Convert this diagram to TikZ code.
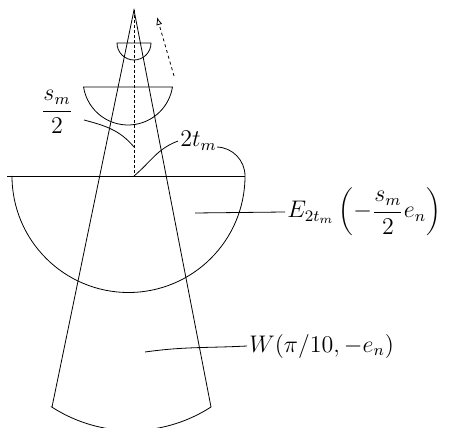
\documentclass[tikz,border=0pt]{standalone}
\usetikzlibrary{arrows.meta}
\begin{document}
\begin{tikzpicture}[
        x=0.5pt, y=0.5pt,
        axisline/.style={dash pattern=on 1.5pt off 1pt},
        moveline/.style={dash pattern=on 1.5pt off 1.5pt, -{Latex[open, length=4pt, width=3pt]}},
        pointer/.style={thin},
        lbl/.style={font=\large, inner sep=1pt},
      ]
        \useasboundingbox (0,0) rectangle (464,427);

        % apex and origin
        \coordinate (apex) at (134,417);
        \coordinate (o) at (134,251);

        % cone W
        \draw (52,20) -- (apex) -- (211,20)
          arc[start angle=302.9, end angle=237.1, radius=73.3pt] -- cycle;

        % base line and big half disc
        \draw (7,251) -- (245,251);
        \draw (12,251) arc[start angle=180, end angle=360, radius=58.25pt]
          arc[start angle=0, end angle=88, radius=14.5pt];

        % smaller half discs
        \draw (128,347) ++(189:22.5pt) arc[start angle=189, end angle=351, radius=22.5pt] -- cycle;
        \draw (117,384) arc[start angle=180, end angle=360, radius=8.5pt] -- cycle;

        % axis and direction of motion
        \draw[axisline] (apex) -- (o);
        \coordinate (mv-from) at (174,351);
        \coordinate (mv-to) at (157,410);
        \draw[moveline] (mv-from) -- (mv-to);

        % labels
        \node[lbl] (slabel) at (57,315) {$\displaystyle\frac{s_m}{2}$};
        \node[lbl, anchor=base west] (tlabel) at (178,280) {$2t_m$};
        \node[lbl, anchor=west] (elabel) at (285,215) {$\displaystyle E_{2t_m}\left(-\frac{s_m}{2}e_n\right)$};
        \node[lbl, anchor=west] (wlabel) at (247,81) {$W(\pi/10,-e_n)$};

        % pointers
        \coordinate (s-end) at (84,307);
        \coordinate (s-tip) at (134,280);
        \coordinate (e-tip) at (195,214);
        \coordinate (w-tip) at (145,75);
        \draw[pointer] (s-end) to[out=-15, in=130] (s-tip);
        \draw[pointer] (o) to[out=40, in=200] (tlabel.west);
        \draw[pointer] (e-tip) -- (elabel.west);
        \draw[pointer] (w-tip) to[out=8, in=183] (wlabel.west);
      \end{tikzpicture}
\end{document}
